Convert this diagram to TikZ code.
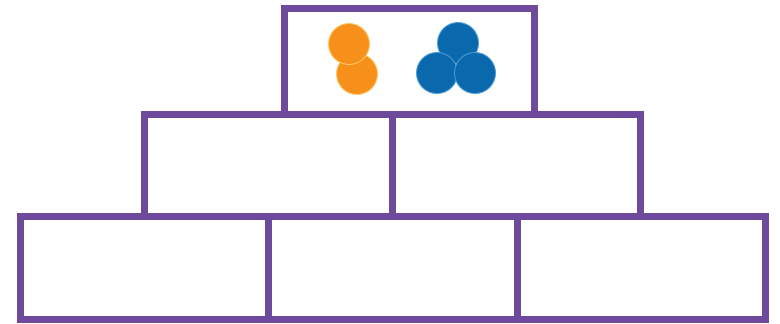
\documentclass[tikz,border=0pt]{standalone}
\definecolor{brickpurple}{HTML}{6D4A9C}
\definecolor{ballorange}{HTML}{F7901A}
\definecolor{ballblue}{HTML}{0A68AC}
\definecolor{orangerim}{HTML}{FFC766}
\definecolor{bluerim}{HTML}{4A9BD6}
\begin{document}
\begin{tikzpicture}[x=1pt,y=-1pt,
  brick/.style={draw=brickpurple,line width=7pt,fill=white,rectangle,inner sep=0pt,outer sep=0pt,minimum width=248.5pt,minimum height=102.5pt},
  ball/.style={circle,inner sep=0pt,outer sep=0pt,minimum size=41pt,line width=0.9pt},
  oball/.style={ball,fill=ballorange,draw=orangerim},
  bball/.style={ball,fill=ballblue,draw=bluerim}]
\useasboundingbox (0,0) rectangle (780,324);
\fill[white] (0,0) rectangle (780,324);
% bottom row
\node[brick] (b1) at (144.5,268) {};
\node[brick] (b2) at (393,268) {};
\node[brick] (b3) at (641.5,268) {};
% middle row
\node[brick] (m1) at (268.3,165.5) {};
\node[brick] (m2) at (516.7,165.5) {};
% top
\node[brick,minimum width=250pt,minimum height=106pt] (t) at (409,61) {};
% balls
\node[oball] (o2) at (357,74) {};
\node[oball] (o1) at (349,44) {};
\node[bball] (bl3) at (458,43) {};
\node[bball] (bl1) at (437,73) {};
\node[bball] (bl2) at (475,73) {};
\end{tikzpicture}
\end{document}
